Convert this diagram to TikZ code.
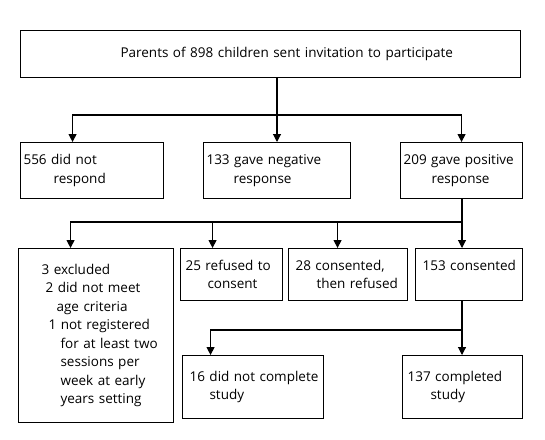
\documentclass[tikz,border=0pt]{standalone}
\usepackage{fontspec}
\setmainfont{Open Sans}
\usetikzlibrary{arrows.meta, positioning, calc}
\tikzset{
  stage/.style={rectangle, draw, line width=1.1pt, inner xsep=3pt, inner ysep=2pt, anchor=north west, align=left, font=\fontsize{13.5}{18.5}\selectfont},
  flow/.style={-{Triangle[width=8pt, length=8pt]}, line width=1.1pt},
  link/.style={line width=1.1pt},
}

\begin{document}
\begin{tikzpicture}[x=1pt, y=-1pt]
  \useasboundingbox (0,0) rectangle (545,439);
  % invitation
  \node[stage, text width=494pt, minimum height=47pt] (invite) at (20,30) {\hspace*{97pt}Parents of 898 children sent invitation to participate};
  % first responses
  \node[stage, text width=137pt, minimum height=56pt] (noreply) at (20,142) {556 did not\\\hspace*{30pt}respond};
  \node[stage, text width=141pt, minimum height=56pt] (negative) at (203,142) {133 gave negative\\\hspace*{27pt}response};
  \node[stage, text width=116pt, minimum height=56pt] (positive) at (400,142) {209 gave positive\\\hspace*{28pt}response};
  % consent stage
  \node[stage, text width=149pt, minimum height=174pt] (excluded) at (18,248) {\hspace*{20pt}3 excluded\\\hspace*{24pt}2 did not meet\\\hspace*{35pt}age criteria\\\hspace*{27pt}1 not registered\\\hspace*{39pt}for at least two\\\hspace*{39pt}sessions per\\\hspace*{39pt}week at early\\\hspace*{39pt}years setting};
  \node[stage, text width=96pt, minimum height=52pt] (refused) at (180,248) {\hspace*{2pt}25 refused to\\\hspace*{24pt}consent};
  \node[stage, text width=113pt, minimum height=52pt] (withdrew) at (288,248) {\hspace*{4pt}28 consented,\\\hspace*{25pt}then refused};
  \node[stage, text width=101pt, minimum height=52pt] (consented) at (415,248) {\hspace*{4pt}153 consented\\\mbox{}};
  % completion
  \node[stage, text width=135pt, minimum height=63pt] (incomplete) at (182,355) {\hspace*{4pt}16 did not complete\\\hspace*{24pt}study};
  \node[stage, text width=114pt, minimum height=63pt] (completed) at (402,355) {\hspace*{2pt}137 completed\\\hspace*{25pt}study};

  \coordinate (hub1) at (277,115);
  \coordinate (hub2) at (462,222);
  \coordinate (hub3) at (462,330);

  \draw[link] (invite.south -| hub1) -- (hub1);
  \draw[flow] (hub1) -| ([xshift=-19.5pt]noreply.north);
  \draw[flow] (hub1) -- (hub1 |- negative.north);
  \draw[flow] (hub1) -| (hub1 -| positive.north) -- (positive.north);

  \draw[link] (positive.south -| hub2) -- (hub2);
  \draw[flow] (hub2) -| ([xshift=-25.5pt]excluded.north);
  \draw[flow] (hub2) -| ([xshift=-19pt]refused.north);
  \draw[flow] (hub2) -| ([xshift=-10.5pt]withdrew.north);
  \draw[flow] (hub2) -- (hub2 |- consented.north);

  \draw[link] (consented.south -| hub3) -- (hub3);
  \draw[flow] (hub3) -| ([xshift=-42.5pt]incomplete.north);
  \draw[flow] (hub3) -- (hub3 |- completed.north);
\end{tikzpicture}
\end{document}
